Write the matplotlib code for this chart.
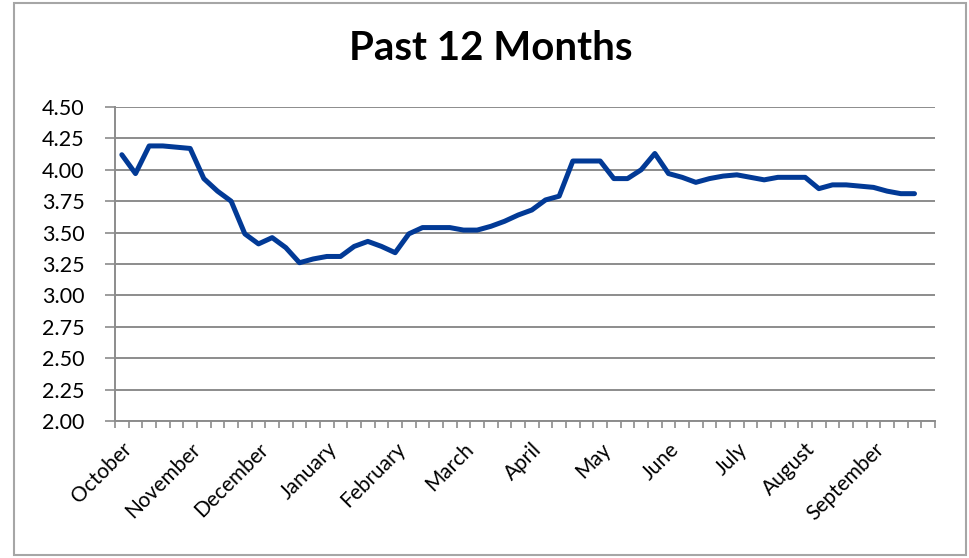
import matplotlib.pyplot as plt
from matplotlib.patches import Rectangle
from matplotlib.ticker import FixedLocator, NullFormatter
import numpy as np

# weekly values (60 category slots, last one empty)
values = [4.12, 3.97, 4.19, 4.19, 4.18, 4.17, 3.93, 3.83, 3.75, 3.49,
          3.41, 3.46, 3.38, 3.26, 3.29, 3.31, 3.31, 3.39, 3.43, 3.39,
          3.34, 3.49, 3.54, 3.54, 3.54, 3.52, 3.52, 3.55, 3.59, 3.64,
          3.68, 3.76, 3.79, 4.07, 4.07, 4.07, 3.93, 3.93, 4.00, 4.13,
          3.97, 3.94, 3.90, 3.93, 3.95, 3.96, 3.94, 3.92, 3.94, 3.94,
          3.94, 3.85, 3.88, 3.88, 3.87, 3.86, 3.83, 3.81, 3.81, np.nan]
months = ["October", "November", "December", "January", "February", "March",
          "April", "May", "June", "July", "August", "September"]
yticks = [2.00, 2.25, 2.50, 2.75, 3.00, 3.25, 3.50, 3.75, 4.00, 4.25, 4.50]

W, H = 970, 558
fig = plt.figure(figsize=(W / 100, H / 100), dpi=100)

# chart border
fig.patches.append(Rectangle((14 / W, 3 / H), 952 / W, 552 / H, transform=fig.transFigure,
                             fill=False, edgecolor="#A6A6A6", linewidth=1.5))

ax = fig.add_axes([115 / W, 1 - 421 / H, 820 / W, 314 / H])

x = np.arange(len(values))
ax.plot(x, values, color="#023A96", linewidth=3.6, solid_joinstyle="round", solid_capstyle="round")

ax.set_xlim(-0.5, len(values) - 0.5)
ax.set_ylim(2.0, 4.5)

ax.set_yticks(yticks)
ax.set_yticklabels(["%.2f" % v for v in yticks], fontfamily="Lato", fontsize=15.5)
ax.grid(axis="y", color="#8C8C8C", linewidth=1.4)
ax.set_axisbelow(True)

label_pos = x[::5][:len(months)]
ax.set_xticks(label_pos)
ax.set_xticklabels(months, rotation=45, ha="right", va="top", rotation_mode="anchor",
                   fontfamily="Lato", fontsize=15)
ax.xaxis.set_minor_locator(FixedLocator(np.arange(-0.5, len(values), 1)))
ax.xaxis.set_minor_formatter(NullFormatter())
ax.tick_params(axis="x", which="major", length=0, pad=13)
ax.tick_params(axis="x", which="minor", length=5, width=1.2, color="#8C8C8C")
ax.tick_params(axis="y", length=7, width=1.2, color="#8C8C8C", pad=15)

for s in ["top", "right"]:
    ax.spines[s].set_visible(False)
for s in ["left", "bottom"]:
    ax.spines[s].set_color("#8C8C8C")
    ax.spines[s].set_linewidth(1.4)

fig.text(491 / W, 1 - 48 / H, "Past 12 Months", ha="center", va="center",
         fontfamily="Lato", fontweight="bold", fontsize=29)

fig.savefig("out.png", dpi=100)
